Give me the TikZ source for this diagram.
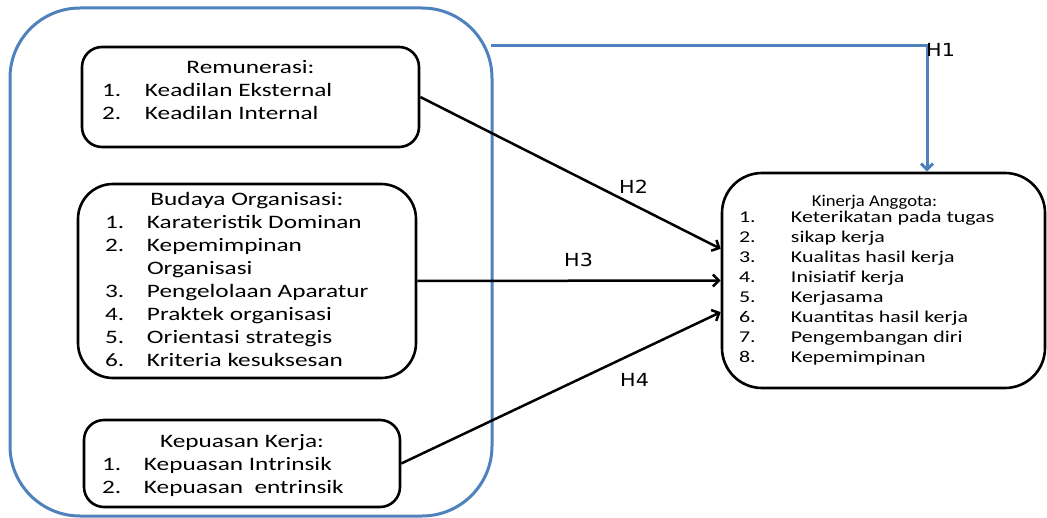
\documentclass[tikz,border=0pt]{standalone}
\usepackage{fontspec}
\setmainfont{Carlito}[FakeStretch=1.33]
\newfontfamily\hfont{DejaVu Sans}[FakeStretch=1.15]
\usetikzlibrary{arrows.meta}
\definecolor{frameblue}{RGB}{79,129,189}

\begin{document}
\begin{tikzpicture}[x=1pt,y=-1pt,
  box/.style={draw, line width=2.6pt, rounded corners=#1, inner sep=0pt},
  box/.default=20pt,
  txt/.style={inner sep=0pt, font=\fontsize{19}{23}\selectfont},
  hlab/.style={inner sep=0pt, font=\hfont\fontsize{18}{20}\selectfont},
  arr/.style={-{Straight Barb[length=6pt,width=12pt]}, line width=2.5pt}]
\useasboundingbox (0,0) rectangle (1047,518);

% frames
\node[box=70pt, draw=frameblue, line width=3pt, minimum width=482pt, minimum height=508pt] (outer) at (251,262) {};
\node[box, minimum width=337pt, minimum height=100pt] (rem) at (250.5,97) {};
\node[box=35pt, minimum width=338pt, minimum height=194pt] (bud) at (247,281) {};
\node[box, minimum width=316pt, minimum height=87pt] (kep) at (242,463.5) {};
\node[box=40pt, minimum width=323pt, minimum height=215pt] (kin) at (883.5,280.5) {};

% texts
\node[txt, anchor=base] (remt) at (250.5,74) {\begin{tabular}[t]{@{}p{43pt}@{}p{254pt}@{}}
\multicolumn{2}{@{}c@{}}{Remunerasi:}\\
1. & Keadilan Eksternal\\
2. & Keadilan Internal
\end{tabular}};
\node[txt, anchor=base] (budt) at (247,206) {\begin{tabular}[t]{@{}p{42pt}@{}p{242pt}@{}}
\multicolumn{2}{@{}c@{}}{Budaya Organisasi:}\\
1. & Karateristik Dominan\\
2. & Kepemimpinan\newline Organisasi\\
3. & Pengelolaan Aparatur\\
4. & Praktek organisasi\\
5. & Orientasi strategis\\
6. & Kriteria kesuksesan
\end{tabular}};
\node[txt, anchor=base] (kept) at (242,447) {\begin{tabular}[t]{@{}p{42pt}@{}p{238pt}@{}}
\multicolumn{2}{@{}c@{}}{Kepuasan Kerja:}\\
1. & Kepuasan Intrinsik\\
2. & Kepuasan\ \ entrinsik
\end{tabular}};
\node[txt, font=\fontsize{16.5}{20}\selectfont, anchor=base] (kint) at (883.5,207) {\begin{tabular}[t]{@{}p{52pt}@{}p{237pt}@{}}
\multicolumn{2}{@{}c@{}}{\hspace*{-18pt}\scalebox{0.85}[1]{Kinerja Anggota:}}\\[-4pt]
1. & Keterikatan pada tugas\\
2. & sikap kerja\\
3. & Kualitas hasil kerja\\
4. & Inisiatif kerja\\
5. & Kerjasama\\
6. & Kuantitas hasil kerja\\
7. & Pengembangan diri\\
8. & Kepemimpinan
\end{tabular}};

% H1
\coordinate (h1s) at (491,46);
\coordinate (h1c) at (927,46);
\draw[arr, draw=frameblue, line width=3pt] (h1s) -- (h1c) -- (h1c |- kin.north);
\node[hlab, anchor=base west] (h1) at (926,57) {H1};

% H2 - H4
\draw[arr] (rem.east) -- (kin.169);
\draw[arr] (bud.east) -- (kin.west);
\draw[arr] (kep.east) -- (kin.191);
\node[hlab, anchor=base west] (h2) at (619,194) {H2};
\node[hlab, anchor=base west] (h3) at (564,267) {H3};
\node[hlab, anchor=base west] (h4) at (620,387) {H4};
\end{tikzpicture}
\end{document}
